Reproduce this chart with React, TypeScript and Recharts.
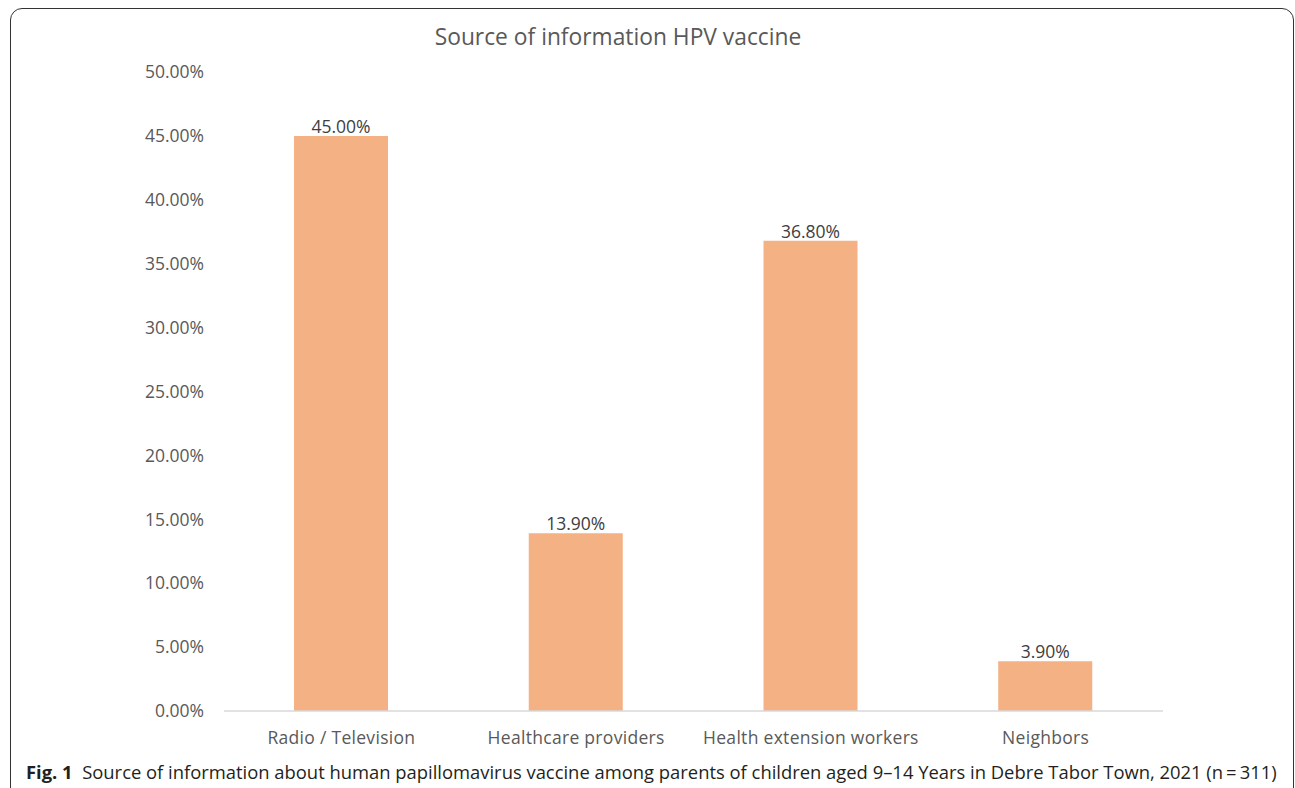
import React from "react";
import { BarChart, Bar, XAxis, YAxis, LabelList } from "recharts";

const categories = ["Radio / Television", "Healthcare providers", "Health extension workers", "Neighbors"];
const shares = [45.0, 13.9, 36.8, 3.9];
const yTicks = [0, 5, 10, 15, 20, 25, 30, 35, 40, 45, 50];

const data = categories.map((name, i) => ({ name, value: shares[i] }));

const pct = (v: number) => `${v.toFixed(2)}%`;
const font = "'Open Sans', sans-serif";

export default function App() {
  return (
    <div
      style={{
        position: "absolute",
        left: 0,
        top: 0,
        width: 1295,
        height: 788,
        overflow: "hidden",
        background: "#fff",
        fontFamily: font,
      }}
    >
      {/* rounded frame */}
      <div
        style={{
          position: "absolute",
          left: 10,
          top: 8,
          width: 1284,
          height: 800,
          border: "1.5px solid #333",
          borderRadius: 12,
          boxSizing: "border-box",
        }}
      />
      <div
        style={{
          position: "absolute",
          left: 318,
          width: 600,
          top: 21,
          textAlign: "center",
          fontSize: 22.8,
          color: "#595959",
        }}
      >
        Source of information HPV vaccine
      </div>
      <div style={{ position: "absolute", left: 0, top: 0 }}>
        <BarChart width={1295} height={788} data={data} margin={{ top: 72, right: 132, bottom: 37, left: 0 }}>
          <XAxis
            dataKey="name"
            height={40}
            tickLine={false}
            axisLine={{ stroke: "#D9D9D9", strokeWidth: 1.5 }}
            tickMargin={15}
            tick={{ fill: "#595959", fontSize: 17.5, fontFamily: font, letterSpacing: 0.3 }}
            interval={0}
          />
          <YAxis
            width={224}
            domain={[0, 50]}
            ticks={yTicks}
            tickFormatter={pct}
            axisLine={false}
            tickLine={false}
            tickMargin={14}
            tick={{ fill: "#595959", fontSize: 17.5, fontFamily: font }}
          />
          <Bar dataKey="value" fill="#F4B183" barSize={94} isAnimationActive={false}>
            <LabelList
              dataKey="value"
              position="top"
              offset={3}
              formatter={(v: any) => pct(Number(v))}
              style={{ fill: "#404040", fontSize: 17.5, fontFamily: font }}
            />
          </Bar>
        </BarChart>
      </div>
      <div
        style={{
          position: "absolute",
          left: 26,
          top: 759,
          fontSize: 18.4,
          color: "#231F20",
          whiteSpace: "nowrap",
          fontFamily: "'Open Sans', sans-serif",
        }}
      >
        <b>Fig. 1</b>&nbsp;&nbsp;Source of information about human papillomavirus vaccine among parents of children aged 9–14 Years in Debre Tabor Town, 2021 (n&thinsp;=&thinsp;311)
      </div>
    </div>
  );
}
